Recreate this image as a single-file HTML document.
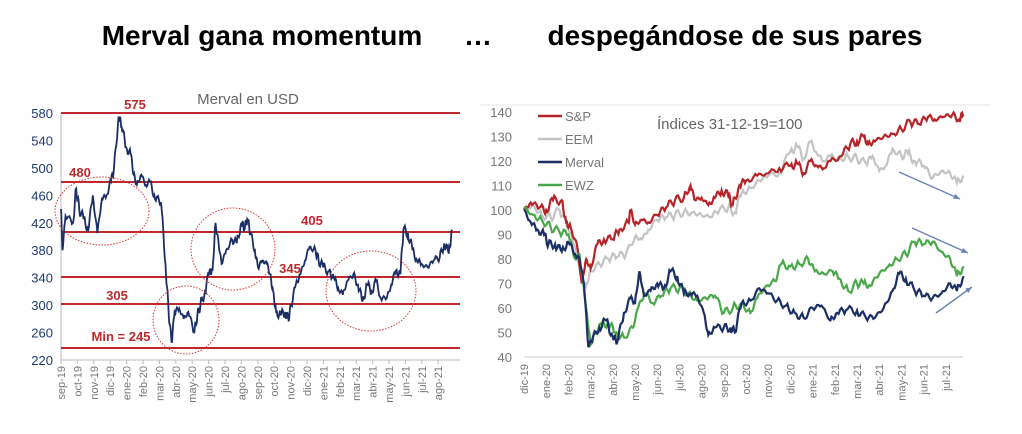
<!DOCTYPE html>
<html><head><meta charset="utf-8"><style>
body{margin:0;background:#fff;width:1022px;height:429px;overflow:hidden;font-family:"Liberation Sans",sans-serif}
</style></head><body>
<svg id="s" width="1022" height="429" xmlns="http://www.w3.org/2000/svg" font-family="Liberation Sans, sans-serif">
<text x="262" y="45" font-size="28" font-weight="bold" text-anchor="middle">Merval gana momentum</text>
<text x="478" y="45" font-size="28" font-weight="bold" text-anchor="middle">…</text>
<text x="735" y="45" font-size="28" font-weight="bold" text-anchor="middle">despegándose de sus pares</text>
<text x="248" y="104" font-size="15" fill="#666" text-anchor="middle">Merval en USD</text>
<line x1="61" y1="113" x2="61" y2="360" stroke="#bbb"/>
<line x1="61" y1="360" x2="460" y2="360" stroke="#bbb"/>
<g id="L"></g>
<g id="R"></g>
<text x="657" y="129" font-size="15" fill="#666">Índices 31-12-19=100</text>
</svg>
<script>
const NS="http://www.w3.org/2000/svg";
function el(p,t,a,txt){const e=document.createElementNS(NS,t);for(const k in a)e.setAttribute(k,a[k]);if(txt!==undefined)e.textContent=txt;p.appendChild(e);return e;}
const L=document.getElementById('L'),R=document.getElementById('R');
const yl=v=>113+(580-v)*0.686;
for(let v=220;v<=580;v+=40)el(L,'text',{x:53,y:yl(v)+5,'font-size':13,fill:'#1f3a6e','text-anchor':'end'},v);
[113,182,232,277,304,348].forEach(y=>el(L,'line',{x1:61,y1:y,x2:460,y2:y,stroke:'#c0282d','stroke-width':2}));
const ml=['sep-19','oct-19','nov-19','dic-19','ene-20','feb-20','mar-20','abr-20','may-20','jun-20','jul-20','ago-20','sep-20','oct-20','nov-20','dic-20','ene-21','feb-21','mar-21','abr-21','may-21','jun-21','jul-21','ago-21'];
ml.forEach((m,i)=>{const x=61+i*16.4;el(L,'line',{x1:x,y1:360,x2:x,y2:364,stroke:'#bbb'});el(L,'text',{x:0,y:0,'font-size':11,fill:'#777','text-anchor':'end',transform:`translate(${x+4},366) rotate(-90)`},m);});
const md=[0,440,.1,380,.3,430,.8,420,1,470,1.2,440,1.5,425,1.8,410,2.1,460,2.4,405,2.7,455,3,460,3.3,480,3.5,500,3.8,575,4,560,4.3,530,4.6,520,4.8,490,5,475,5.3,490,5.6,475,5.9,480,6.2,455,6.6,450,6.9,360,7.1,290,7.3,245,7.5,290,7.8,295,8.1,280,8.4,290,8.8,260,9,285,9.2,300,9.5,320,9.8,350,10,350,10.2,420,10.4,390,10.6,360,10.9,380,11.3,395,11.6,390,11.9,420,12.1,410,12.3,425,12.5,405,12.8,380,13,355,13.3,365,13.6,360,13.8,345,14,320,14.2,290,14.5,285,14.8,290,15,280,15.2,300,15.5,330,15.8,345,16.1,365,16.4,385,16.8,380,17,365,17.3,355,17.7,350,18,340,18.3,325,18.6,315,18.9,335,19.3,345,19.6,330,19.9,305,20.2,330,20.5,320,20.8,335,21.1,310,21.5,310,21.8,330,22.1,350,22.4,345,22.6,410,22.9,405,23.2,380,23.5,365,23.8,360,24.2,355,24.6,365,25,370,25.3,390,25.6,375,25.8,410];
function pts(d,fx,fy,amp){let s='';for(let i=0;i<d.length-2;i+=2){const a=d[i],b=d[i+1],c=d[i+2],e=d[i+3];const N=6;for(let k=0;k<N;k++){const t=k/N;const n=k?Math.sin(a*97+k*13.7)+0.5*Math.sin(a*31+k*5.3):0;s+=fx(a+(c-a)*t).toFixed(1)+','+fy(b+(e-b)*t+n*amp).toFixed(1)+' ';}}s+=fx(d[d.length-2])+','+fy(d[d.length-1]);return s;}
el(L,'polyline',{points:pts(md,i=>61+i*15.15,yl,5),fill:'none',stroke:'#1b2f66','stroke-width':1.8});
[[102,211,47,34],[186,320,33,34],[233,249,42,41],[371,291,45,40]].forEach(c=>el(L,'ellipse',{cx:c[0],cy:c[1],rx:c[2],ry:c[3],fill:'none',stroke:'#d33','stroke-width':1,'stroke-dasharray':'1.5,1.5'}));
[['575',135,109],['480',80,177],['405',312,225],['345',290,273],['305',117,300],['Min = 245',121,341]].forEach(t=>el(L,'text',{x:t[1],y:t[2],'font-size':13,'font-weight':'bold',fill:'#c0282d','text-anchor':'middle'},t[0]));
el(R,'line',{x1:480,y1:105,x2:990,y2:105,stroke:'#e4e4e4'});
el(R,'line',{x1:524,y1:357,x2:963,y2:357,stroke:'#ccc'});
const yr=v=>357-(v-40)*2.45, xr=i=>524+i*22.2;
for(let v=40;v<=140;v+=10)el(R,'text',{x:512,y:yr(v)+5,'font-size':13,fill:'#777','text-anchor':'end'},v);
const mr=['dic-19','ene-20','feb-20','mar-20','abr-20','may-20','jun-20','jul-20','ago-20','sep-20','oct-20','nov-20','dic-20','ene-21','feb-21','mar-21','abr-21','may-21','jun-21','jul-21'];
mr.forEach((m,i)=>el(R,'text',{x:0,y:0,'font-size':11,fill:'#777','text-anchor':'end',transform:`translate(${xr(i)+4},364) rotate(-90)`},m));
const S={
eem:[0,100,.4,102,.8,98,1.2,97,1.6,100,2,92,2.3,85,2.6,72,2.8,69,3,75,3.4,78,3.8,80,4.2,81,4.6,82,5,89,5.3,88,5.6,92,6,96,6.4,97,6.8,98,7.2,99,7.6,99,8,98,8.4,97,8.8,100,9.2,101,9.5,99,9.8,107,10.2,109,10.6,112,11,114,11.5,115,12,124,12.3,126,12.6,121,12.9,128,13.2,123,13.5,120,13.8,122,14.2,121,14.6,122,15,121,15.4,119,15.7,122,16,116,16.3,118,16.6,125,17,122,17.3,123,17.6,120,18,118,18.4,113,18.8,116,19.2,115,19.5,111,19.8,114],
sp:[0,100,.3,103,.7,101,1,100,1.3,104,1.7,104,1.9,95,2.1,93,2.4,85,2.6,70,2.8,80,3,76,3.3,86,3.6,88,4,88,4.3,92,4.7,95,4.8,100,5,94,5.3,96,5.6,95,6,98,6.4,101,6.8,104,7.2,105,7.5,110,7.7,104,8,105,8.3,102,8.6,105,8.9,108,9.2,106,9.4,102,9.7,110,10,112,10.5,114,11,115,11.5,117,12,118,12.3,119,12.6,115,12.9,120,13.2,118,13.5,117,13.8,120,14.3,122,14.7,127,15,128,15.3,130,15.5,127,15.8,128,16.2,130,16.6,131,17,133,17.4,136,17.8,135,18.2,138,18.5,137,18.9,138,19.3,139,19.6,137,19.8,139],
ewz:[0,101,.4,98,.8,96,1.2,93,1.6,91,2,90,2.3,80,2.5,82,2.8,60,3,45,3.2,50,3.5,53,3.8,54,4.1,50,4.5,48,4.9,52,5.2,62,5.5,66,5.8,62,6.2,65,6.6,68,7,68,7.4,66,7.8,63,8.2,64,8.6,65,9,58,9.4,60,9.8,62,10.2,58,10.5,64,10.9,69,11.3,71,11.6,78,12,77,12.4,78,12.8,80,13.1,75,13.5,74,13.9,75,14.2,72,14.6,67,15,70,15.3,70,15.6,69,16,74,16.4,77,16.8,80,17.2,82,17.6,87,18,86,18.4,87,18.8,83,19.2,80,19.5,73,19.8,77],
mer:[0,100,.3,95,.6,92,.9,90,1.1,86,1.4,86,1.7,83,2,87,2.3,82,2.5,80,2.7,70,2.9,44,3.1,48,3.4,52,3.7,55,4,48,4.2,46,4.5,58,4.8,64,5,62,5.2,75,5.4,65,5.7,67,6,70,6.3,68,6.6,75,6.9,73,7.2,66,7.5,66,7.8,65,8.1,58,8.3,49,8.6,52,9,52,9.3,52,9.5,50,9.8,62,10.2,63,10.6,68,11,66,11.4,63,11.8,61,12.2,58,12.6,56,13,60,13.4,61,13.8,55,14.1,58,14.5,59,15,59,15.4,56,15.8,56,16.2,60,16.6,67,16.9,74,17.2,72,17.6,67,18,65,18.4,64,18.8,66,19.2,70,19.5,67,19.8,73]};
const col={eem:'#c4c4c4',sp:'#b52428',ewz:'#4aa84a',mer:'#1b2f66'};
['eem','sp','ewz','mer'].forEach(k=>el(R,'polyline',{points:pts(S[k],xr,v=>yr(v),1.2),fill:'none',stroke:col[k],'stroke-width':2.2}));
[['S&P','sp',116],['EEM','eem',139],['Merval','mer',162],['EWZ','ewz',185]].forEach(l=>{el(R,'line',{x1:538,y1:l[2],x2:562,y2:l[2],stroke:col[l[1]],'stroke-width':2.5});el(R,'text',{x:565,y:l[2]+5,'font-size':13,fill:'#777'},l[0]);});
[[899,172,960,199],[912,228,968,253],[936,313,972,287]].forEach(a=>{el(R,'line',{x1:a[0],y1:a[1],x2:a[2],y2:a[3],stroke:'#6b84b8','stroke-width':1.5});const an=Math.atan2(a[3]-a[1],a[2]-a[0]);const p=(d)=>(a[2]-7*Math.cos(an+d)).toFixed(1)+','+(a[3]-7*Math.sin(an+d)).toFixed(1);el(R,'polygon',{points:`${a[2]},${a[3]} ${p(.4)} ${p(-.4)}`,fill:'#6b84b8'});});
</script>
</body></html>
